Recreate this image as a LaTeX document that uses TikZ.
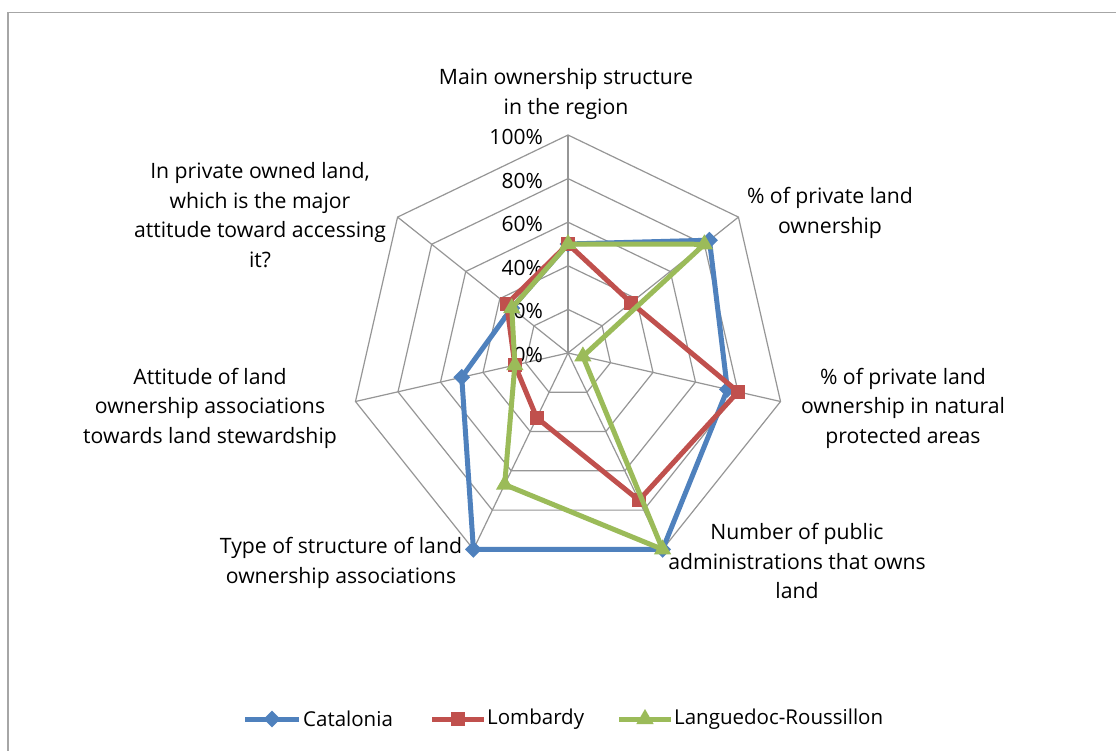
\documentclass[tikz,border=0pt]{standalone}
\usepackage{fontspec}
\setmainfont{Open Sans}
\usetikzlibrary{shapes.geometric}
\definecolor{cat}{HTML}{4F81BD}
\definecolor{lom}{HTML}{C0504D}
\definecolor{lan}{HTML}{9BBB59}
\definecolor{gridc}{HTML}{969696}
\definecolor{framec}{HTML}{A6A6A6}
\begin{document}
\begin{tikzpicture}[x=1pt,y=-1pt,
  lbl/.style={align=center, font=\fontsize{21.2}{29.5}\selectfont, inner sep=0pt},
  pct/.style={anchor=east, font=\fontsize{21}{24}\selectfont, inner sep=0pt},
  leg/.style={anchor=west, font=\fontsize{20.5}{24}\selectfont, inner sep=0pt},
  gridline/.style={draw=gridc, line width=1.2pt},
  series/.style={line width=5pt, line join=round},
  dmark/.style={diamond, fill=cat, inner sep=0pt, minimum size=17pt},
  smark/.style={rectangle, fill=lom, inner sep=0pt, minimum size=14pt},
  tmark/.style={regular polygon, regular polygon sides=3, fill=lan, inner sep=0pt, minimum size=20pt},
]
\useasboundingbox (0,0) rectangle (1116,751);
\fill[white] (0,0) rectangle (1116,751);
\draw[draw=framec, line width=1.5pt] (8,751) -- (8,12.3) -- (1116,12.3);

\begin{scope}[shift={(568,353)}]
  % grid rings
  \foreach \k in {1,...,5}{
    \draw[gridline] (-90:{\k*43.6}) \foreach \i in {1,...,6}{ -- ({-90+\i*360/7}:{\k*43.6})} -- cycle;
  }
  % spokes
  \foreach \i in {0,...,6}{
    \draw[gridline] (0,0) -- ({-90+\i*360/7}:218);
  }
  % data coordinates
  \foreach \v [count=\i from 0] in {0.5,0.83,0.75,1.0,1.0,0.5,0.33}
    \coordinate (cat\i) at ({-90+\i*360/7}:{\v*218});
  \foreach \v [count=\i from 0] in {0.5,0.37,0.8,0.75,0.33,0.25,0.36}
    \coordinate (lom\i) at ({-90+\i*360/7}:{\v*218});
  \foreach \v [count=\i from 0] in {0.5,0.8,0.07,1.0,0.67,0.25,0.33}
    \coordinate (lan\i) at ({-90+\i*360/7}:{\v*218});
\end{scope}

% percentage labels
\node[pct] (p0) at (543,355) {0\%};
\node[pct] (p20) at (543,311.4) {20\%};
\node[pct] (p40) at (543,267.8) {40\%};
\node[pct] (p60) at (543,224.2) {60\%};
\node[pct] (p80) at (543,180.6) {80\%};
\node[pct] (p100) at (543,137) {100\%};

% series
\draw[series, cat] (cat0) -- (cat1) -- (cat2) -- (cat3) -- (cat4) -- (cat5) -- (cat6) -- cycle;
\foreach \i in {0,...,6} \node[dmark] (catm\i) at (cat\i) {};
\draw[series, lom] (lom0) -- (lom1) -- (lom2) -- (lom3) -- (lom4) -- (lom5) -- (lom6) -- cycle;
\foreach \i in {0,...,6} \node[smark] (lomm\i) at (lom\i) {};
\draw[series, lan] (lan0) -- (lan1) -- (lan2) -- (lan3) -- (lan4) -- (lan5) -- (lan6) -- cycle;
\foreach \i in {0,...,6} \node[tmark] (lanm\i) at (lan\i) {};

% axis labels
\node[lbl] (t0) at (566,94) {Main ownership structure\\in the region};
\node[lbl] (t1) at (830,213) {\% of private land\\ownership};
\node[lbl] (t2) at (903,408) {\% of private land\\ownership in natural\\protected areas};
\node[lbl] (t3) at (797,561) {Number of public\\administrations that owns\\land};
\node[lbl] (t4) at (341,563) {Type of structure of land\\ownership associations};
\node[lbl] (t5) at (210,408) {Attitude of land\\ownership associations\\towards land stewardship};
\node[lbl] (t6) at (260,215) {In private owned land,\\which is the major\\attitude toward accessing\\it?};

% legend
\coordinate (lca) at (245,719); \coordinate (lcb) at (299,719);
\draw[series, cat] (lca) -- (lcb);
\node[dmark] (lcm) at (272,719) {};
\node[leg] (lct) at (303,719) {Catalonia};
\coordinate (lla) at (432,719); \coordinate (llb) at (484,719);
\draw[series, lom] (lla) -- (llb);
\node[smark] (llm) at (458,719) {};
\node[leg] (llt) at (487,719) {Lombardy};
\coordinate (lga) at (619,719); \coordinate (lgb) at (671,719);
\draw[series, lan] (lga) -- (lgb);
\node[tmark] (lgm) at (645,719) {};
\node[leg] (lgt) at (674,719) {Languedoc-Roussillon};
\end{tikzpicture}
\end{document}
